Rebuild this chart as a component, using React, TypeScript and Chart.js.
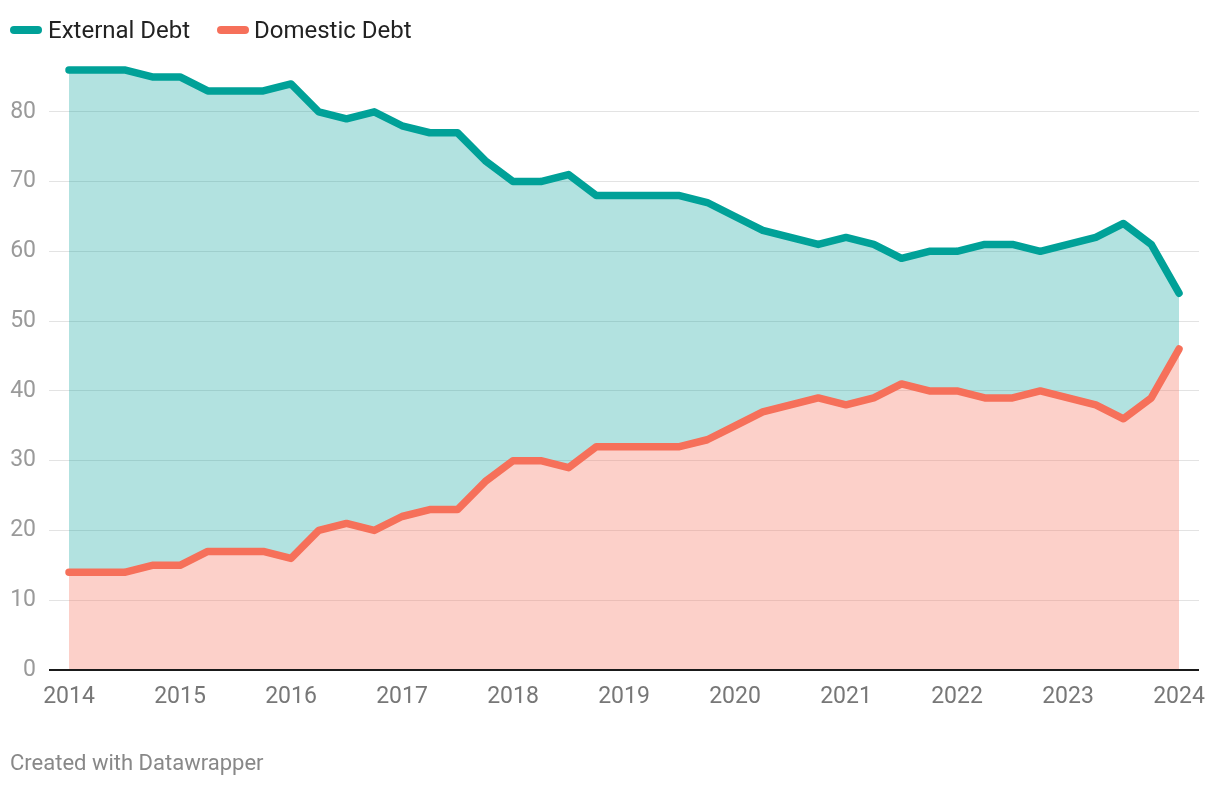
import React, { useEffect, useRef } from "react";
import { Chart, registerables } from "chart.js";

Chart.register(...registerables);

const periods: number[] = [
  2014, 2014.25, 2014.5, 2014.75, 2015, 2015.25, 2015.5, 2015.75, 2016, 2016.25, 2016.5, 2016.75,
  2017, 2017.25, 2017.5, 2017.75, 2018, 2018.25, 2018.5, 2018.75, 2019, 2019.25, 2019.5, 2019.75,
  2020, 2020.25, 2020.5, 2020.75, 2021, 2021.25, 2021.5, 2021.75, 2022, 2022.25, 2022.5, 2022.75,
  2023, 2023.25, 2023.5, 2023.75, 2024,
];

const externalDebt: number[] = [
  86, 86, 86, 85, 85, 83, 83, 83, 84, 80, 79, 80,
  78, 77, 77, 73, 70, 70, 71, 68, 68, 68, 68, 67,
  65, 63, 62, 61, 62, 61, 59, 60, 60, 61, 61, 60,
  61, 62, 64, 61, 54,
];

const domesticDebt: number[] = [
  14, 14, 14, 15, 15, 17, 17, 17, 16, 20, 21, 20,
  22, 23, 23, 27, 30, 30, 29, 32, 32, 32, 32, 33,
  35, 37, 38, 39, 38, 39, 41, 40, 40, 39, 39, 40,
  39, 38, 36, 39, 46,
];

const xTickYears: number[] = [2014, 2015, 2016, 2017, 2018, 2019, 2020, 2021, 2022, 2023, 2024];
const yTickValues: number[] = [0, 10, 20, 30, 40, 50, 60, 70, 80];

const TEAL = "#00a198";
const SALMON = "#f6705a";
const FONT = "Roboto, 'Noto Sans', sans-serif";

export default function App() {
  const canvasRef = useRef<HTMLCanvasElement | null>(null);

  useEffect(() => {
    document.body.style.margin = "0";
    const ctx = canvasRef.current!;
    const chart = new Chart(ctx, {
      type: "line",
      data: {
        datasets: [
          {
            label: "External Debt",
            data: periods.map((p, i) => ({ x: p, y: externalDebt[i] })),
            borderColor: TEAL,
            backgroundColor: "rgba(0,160,152,0.30)",
            borderWidth: 7.5,
            borderCapStyle: "round",
            borderJoinStyle: "round",
            pointRadius: 0,
            tension: 0,
            fill: 1,
          },
          {
            label: "Domestic Debt",
            data: periods.map((p, i) => ({ x: p, y: domesticDebt[i] })),
            borderColor: SALMON,
            backgroundColor: "rgba(246,112,90,0.33)",
            borderWidth: 7.5,
            borderCapStyle: "round",
            borderJoinStyle: "round",
            pointRadius: 0,
            tension: 0,
            fill: "origin",
          },
        ],
      },
      options: {
        animation: false,
        responsive: false,
        maintainAspectRatio: false,
        layout: { padding: { top: 56, right: 21, left: 0, bottom: 0 } },
        plugins: {
          legend: { display: false },
          tooltip: { enabled: false },
          filler: { drawTime: "beforeDatasetsDraw" },
        },
        scales: {
          x: {
            type: "linear",
            min: 2014 - 20 / 111,
            max: 2024 + 20 / 111,
            afterBuildTicks: (scale: any) => {
              scale.ticks = xTickYears.map((v) => ({ value: v }));
            },
            afterFit: (scale: any) => {
              scale.height = 116;
            },
            grid: { display: false, drawTicks: false },
            border: { display: false },
            ticks: {
              padding: 13,
              color: "#777",
              font: { family: FONT, size: 23 },
              callback: (v: any) => String(v),
              maxRotation: 0,
              autoSkip: false,
            },
          },
          y: {
            type: "linear",
            min: 0,
            max: 88,
            afterBuildTicks: (scale: any) => {
              scale.ticks = yTickValues.map((v) => ({ value: v }));
            },
            afterFit: (scale: any) => {
              scale.width = 49;
            },
            border: { display: false },
            grid: {
              drawTicks: false,
              color: (c: any) => (c.tick && c.tick.value === 0 ? "#1a1a1a" : "rgba(0,0,0,0.11)"),
              lineWidth: (c: any) => (c.tick && c.tick.value === 0 ? 2 : 1),
            },
            ticks: {
              padding: 13,
              color: "#9a9a9a",
              font: { family: FONT, size: 23 },
              callback: (v: any) => String(v),
            },
          },
        },
      },
      plugins: [
        {
          id: "zeroLineOnTop",
          afterDatasetsDraw(c: any) {
            const { ctx: g, chartArea, scales } = c;
            const y0 = scales.y.getPixelForValue(0);
            g.save();
            g.strokeStyle = "#1a1a1a";
            g.lineWidth = 2;
            g.beginPath();
            g.moveTo(chartArea.left, y0);
            g.lineTo(chartArea.right, y0);
            g.stroke();
            g.restore();
          },
        },
      ],
    } as any);
    return () => chart.destroy();
  }, []);

  const marker = (color: string, left: number) => (
    <span
      style={{
        position: "absolute",
        left,
        top: 26,
        width: 32,
        height: 8,
        borderRadius: 4,
        background: color,
      }}
    />
  );

  const label = (text: string, left: number) => (
    <span
      style={{
        position: "absolute",
        left,
        top: 16,
        fontFamily: FONT,
        fontSize: 24,
        lineHeight: "28px",
        color: "#222",
        whiteSpace: "nowrap",
      }}
    >
      {text}
    </span>
  );

  return (
    <div style={{ position: "relative", width: 1220, height: 786, background: "#fff" }}>
      <canvas
        ref={canvasRef}
        width={1220}
        height={786}
        style={{ position: "absolute", left: 0, top: 0, width: 1220, height: 786 }}
      />
      {marker(TEAL, 10)}
      {label("External Debt", 48)}
      {marker(SALMON, 217)}
      {label("Domestic Debt", 254)}
      <div
        style={{
          position: "absolute",
          left: 10,
          top: 750,
          fontFamily: FONT,
          fontSize: 22,
          color: "#888",
          lineHeight: "26px",
          whiteSpace: "nowrap",
        }}
      >
        Created with Datawrapper
      </div>
    </div>
  );
}
